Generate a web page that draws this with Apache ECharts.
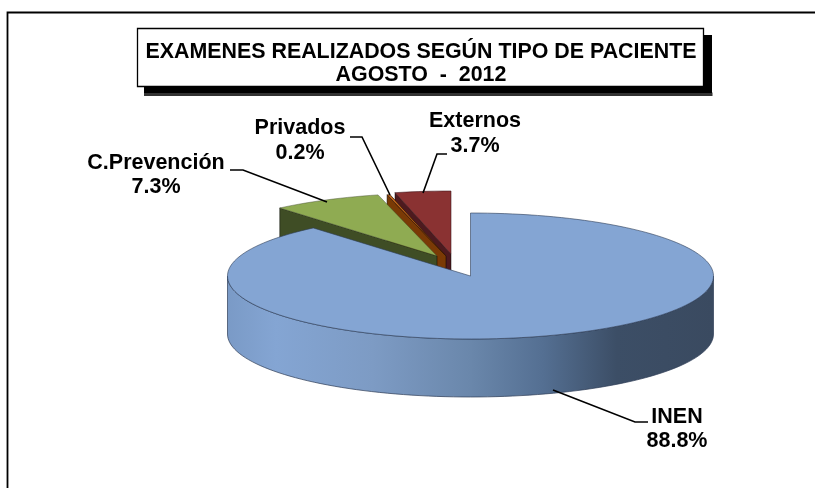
<!DOCTYPE html>
<html><head><meta charset="utf-8">
<style>html,body{margin:0;padding:0;background:#fff}#c{width:815px;height:488px}</style>
<script src="https://cdn.jsdelivr.net/npm/echarts@6/dist/echarts.min.js"></script>
</head><body><div id="c"></div>
<script>
const categories = ['INEN', 'C.Prevención', 'Privados', 'Externos'];
const percentages = [88.8, 7.3, 0.2, 3.7];
const titleLines = ['EXAMENES REALIZADOS SEGÚN TIPO DE PACIENTE', 'AGOSTO  -  2012'];

const CX = 470.5, CY = 276, RX = 243, RY = 63, DEPTH = 58;
const FONT = 'bold 21.5px "Liberation Sans", Arial, sans-serif';
const looks = [
  {dx: 0, dy: 0, top: '#84a5d3', face: '#3b4c63', edge: 'rgba(45,60,85,0.75)',
   label: [677, 417, 441], leader: [[648,422],[635,422],[553,390]]},
  {dx: -33.5, dy: -20, top: '#8fab52', face: '#3f4d25', edge: 'rgba(60,70,40,0.55)',
   label: [156, 163, 187], leader: [[230,170],[243,170],[327,202]]},
  {dx: -24.5, dy: -20, top: '#c0651a', face: '#7a3a05', edge: '#3a1a08',
   label: [300, 128, 153], leader: [[350,137],[362,137],[390,195]]},
  {dx: -19.5, dy: -22, top: '#8a3232', face: '#4d1a1f', edge: 'rgba(60,20,25,0.7)',
   label: [475, 121, 146], leader: [[447,154],[437,154],[423,193]]}
];
const total = percentages.reduce((a, b) => a + b, 0);
const startShare = percentages.map((v, i) => percentages.slice(0, i).reduce((a, b) => a + b, 0));

function pt(deg, ox, oy) {
  const a = deg * Math.PI / 180;
  return [CX + ox + RX * Math.sin(a), CY + oy - RY * Math.cos(a)];
}
function arc(a0, a1, ox, oy) {
  const n = Math.max(2, Math.ceil(Math.abs(a1 - a0) / 2)), out = [];
  for (let i = 0; i <= n; i++) out.push(pt(a0 + (a1 - a0) * i / n, ox, oy));
  return out;
}
function renderSlice(params, api) {
  const i = api.value(0), v = api.value(1), look = looks[i];
  const a0 = api.value(2) / total * 360, a1 = a0 + v / total * 360;
  const ox = look.dx, oy = look.dy;
  const apex = [CX + ox, CY + oy], first = pt(a0, ox, oy);
  const children = [];
  if (i === 0) {
    // front wall of the big slice
    const wallTop = arc(90, 270, ox, oy);
    const wall = wallTop.concat(wallTop.slice().reverse().map(p => [p[0], p[1] + DEPTH]));
    children.push({type: 'polygon', shape: {points: wall}, style: {
      fill: new echarts.graphic.LinearGradient(0, 0, 1, 0, [
        {offset: 0, color: '#7a9ac6'}, {offset: 0.1, color: '#84a5d3'},
        {offset: 0.3, color: '#7d9bc4'}, {offset: 0.5, color: '#6a87ab'},
        {offset: 0.65, color: '#546f92'}, {offset: 0.8, color: '#3c4e66'},
        {offset: 1, color: '#3a4a60'}]),
      stroke: 'rgba(45,60,85,0.7)', lineWidth: 1}});
  } else {
    // visible cut face under the left edge of the exploded slice
    const cutFace = [apex, first, [first[0], first[1] + DEPTH], [apex[0], apex[1] + DEPTH]];
    children.push({type: 'polygon', shape: {points: cutFace},
      style: {fill: look.face, stroke: 'rgba(0,0,0,0.6)', lineWidth: 0.8}});
  }
  children.push({type: 'polygon', shape: {points: [apex].concat(arc(a0, a1, ox, oy))},
    style: {fill: look.top, stroke: look.edge, lineWidth: 0.8}});
  children.push({type: 'polyline', shape: {points: look.leader}, z2: 20,
    style: {fill: 'none', stroke: '#000', lineWidth: 1.6}});
  children.push({type: 'text', z2: 20, style: {x: look.label[0], y: look.label[1],
    text: categories[i], font: FONT, fill: '#000', textAlign: 'center', textVerticalAlign: 'middle'}});
  children.push({type: 'text', z2: 20, style: {x: look.label[0], y: look.label[2],
    text: v.toFixed(1) + '%', font: FONT, fill: '#000', textAlign: 'center', textVerticalAlign: 'middle'}});
  return {type: 'group', children};
}

// painted back to front
const drawOrder = categories.map((c, i) => [i, percentages[i], startShare[i]]).reverse();

const chart = echarts.init(document.getElementById('c'), null, {renderer: 'canvas'});
chart.setOption({
  animation: false,
  backgroundColor: '#fff',
  title: {
    text: titleLines.join('\n'),
    left: 416, top: 35, textAlign: 'center', itemGap: 0,
    textStyle: {fontFamily: '"Liberation Sans", Arial, sans-serif', fontWeight: 'bold',
      fontSize: 21.4, lineHeight: 23.5, color: '#000'}
  },
  graphic: [
    {type: 'polyline', z: 0, shape: {points: [[7.5,488],[7.5,12.5],[815,12.5]]},
      style: {fill: 'none', stroke: '#000', lineWidth: 1.8}},
    {type: 'rect', z: 0, shape: {x: 144, y: 92.5, width: 568.5, height: 3.5}, style: {fill: '#333'}},
    {type: 'rect', z: 0, shape: {x: 144, y: 35, width: 568, height: 58}, style: {fill: '#000'}},
    {type: 'rect', z: 1, shape: {x: 137.5, y: 28.5, width: 566, height: 58},
      style: {fill: '#fff', stroke: '#000', lineWidth: 1.3}}
  ],
  series: [{
    type: 'custom', coordinateSystem: 'none', silent: true,
    encode: {}, data: drawOrder, renderItem: renderSlice, z: 3
  }]
});
</script></body></html>
